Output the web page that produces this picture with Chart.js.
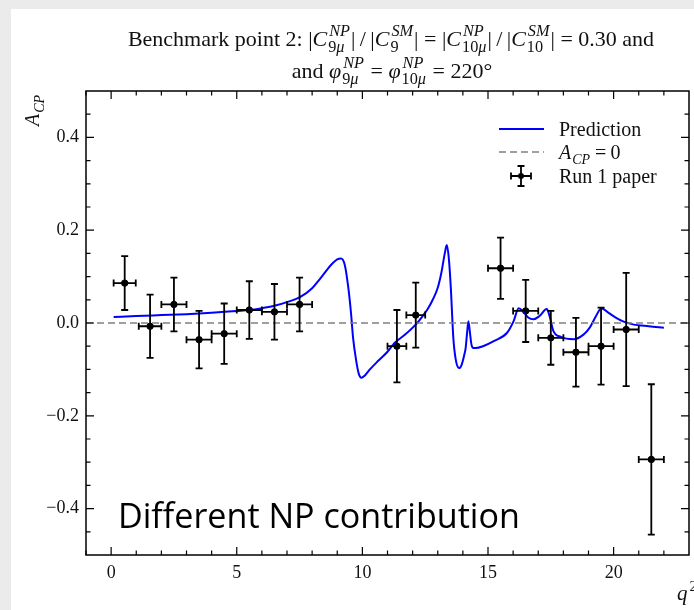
<!DOCTYPE html>
<html>
<head>
<meta charset="utf-8">
<script src="https://cdn.jsdelivr.net/npm/chart.js@4.4.1/dist/chart.umd.min.js"></script>
<style>
  html, body { margin: 0; padding: 0; background: #ebebeb; }
  body { width: 694px; height: 610px; position: relative; overflow: hidden; }
  #card { position: absolute; left: 11px; top: 9px; right: 0; bottom: 0; background: #fff; }
  #wrap { position: absolute; left: 0; top: 0; width: 694px; height: 610px; }
</style>
</head>
<body>
<div id="card"></div>
<div id="wrap"><canvas id="chart" width="694" height="610"></canvas></div>
<script>
// Run 1 paper bins (q^2 ranges) and measured A_CP
const binLow = [0.1, 1.1, 2, 3, 4, 5, 6, 7, 11, 11.75, 15, 16, 17, 18, 19, 20, 21];
const binHigh = [0.98, 2, 3, 4, 5, 6, 7, 8, 11.75, 12.5, 16, 17, 18, 19, 20, 21, 22];
const acpValues = [0.086, -0.007, 0.040, -0.036, -0.023, 0.028, 0.024, 0.040,
  -0.050, 0.017, 0.118, 0.026, -0.032, -0.063, -0.050, -0.014, -0.294];
const acpErrors = [0.058, 0.068, 0.058, 0.062, 0.065, 0.062, 0.060, 0.058,
  0.078, 0.070, 0.066, 0.067, 0.058, 0.074, 0.083, 0.122, 0.162];

// Prediction curve
const curveQ2 = [0.1, 1, 2, 3, 4, 5, 5.5, 6, 6.5, 7, 7.5, 8, 8.25, 8.5, 8.75, 9.0, 9.15, 9.3,
  9.44, 9.55, 9.63, 9.75, 9.85, 9.96, 10.1, 10.3, 10.62, 11.0, 11.28, 11.7, 12.13, 12.4,
  12.6, 12.8, 13.0, 13.15, 13.28, 13.36, 13.44, 13.52, 13.62, 13.72, 13.85, 13.95, 14.05,
  14.11, 14.17, 14.22, 14.28, 14.34, 14.42, 14.52, 14.8, 15.23, 15.76, 16.02, 16.22, 16.4,
  16.6, 16.81, 17.05, 17.34, 17.45, 17.6, 17.9, 18.4, 18.8, 19.05, 19.3, 19.51, 19.8, 20.1,
  20.4, 20.77, 21.4, 22.0];
const curveAcp = [0.013, 0.015, 0.017, 0.019, 0.022, 0.026, 0.028, 0.032, 0.037, 0.045, 0.055,
  0.075, 0.091, 0.108, 0.125, 0.137, 0.139, 0.125, 0.076, 0.020, -0.032, -0.080, -0.108,
  -0.118, -0.113, -0.100, -0.082, -0.062, -0.043, -0.025, -0.003, 0.015, 0.030, 0.050,
  0.076, 0.110, 0.150, 0.168, 0.140, 0.076, -0.032, -0.080, -0.097, -0.090, -0.070,
  -0.054, -0.020, 0.004, -0.020, -0.046, -0.054, -0.054, -0.050, -0.039, -0.021, 0.004,
  0.032, 0.025, 0.012, 0.008, 0.015, 0.030, 0.015, -0.017, -0.030, -0.035, -0.025, -0.010,
  0.015, 0.032, 0.022, 0.011, 0.003, -0.003, -0.007, -0.010];

const xMajorTicks = [0, 5, 10, 15, 20];
const xMinorTicks = [-1, 1, 2, 3, 4, 6, 7, 8, 9, 11, 12, 13, 14, 16, 17, 18, 19, 21, 22];
const yMajorTicks = [-0.4, -0.2, 0, 0.2, 0.4];
const yMinorTicks = [-0.45, -0.35, -0.3, -0.25, -0.15, -0.1, -0.05, 0.05, 0.1, 0.15, 0.25, 0.3, 0.35, 0.45];

const SERIF = '"Liberation Serif", "DejaVu Serif", serif';

function fontStr(size, italic) {
  return `${italic ? "italic " : ""}${size}px ${SERIF}`;
}

function drawChars(ctx, str, x, y, size, draw) {
  let w = 0;
  for (const ch of str) {
    ctx.font = fontStr(size, /[A-Za-z\u03bc\u03c6]/.test(ch));
    if (draw) ctx.fillText(ch, x + w, y);
    w += ctx.measureText(ch).width;
  }
  return w;
}

// parts: {t, it} plain run, or {sub, sup} stacked scripts
function drawRich(ctx, parts, x, y, size, draw = true, scr = 0.7) {
  let cx = x;
  for (const p of parts) {
    if (p.sub !== undefined) {
      const s = size * scr;
      const w1 = drawChars(ctx, p.sub, cx + 1, y + size * 0.26, s, draw);
      const w2 = drawChars(ctx, p.sup, cx + 2, y - size * 0.44, s, draw);
      cx += Math.max(w1 + 1, w2 + 2) + 1;
    } else {
      ctx.font = fontStr(size, p.it);
      if (draw) ctx.fillText(p.t, cx, y);
      cx += ctx.measureText(p.t).width;
    }
  }
  return cx - x;
}

function drawRichCentered(ctx, parts, cx, y, size, scr) {
  const w = drawRich(ctx, parts, 0, 0, size, false, scr);
  drawRich(ctx, parts, cx - w / 2, y, size, true, scr);
}

const T = "\u2009";
const titleLine1 = [
  { t: "Benchmark point 2: |" }, { t: "C", it: true }, { sub: "9\u03bc", sup: "NP" },
  { t: `|${T}/${T}|` }, { t: "C", it: true }, { sub: "9", sup: "SM" },
  { t: "| = |" }, { t: "C", it: true }, { sub: "10\u03bc", sup: "NP" },
  { t: `|${T}/${T}|` }, { t: "C", it: true }, { sub: "10", sup: "SM" },
  { t: "| = 0.30 and" },
];
const titleLine2 = [
  { t: "and " }, { t: "\u03c6", it: true }, { sub: "9\u03bc", sup: "NP" },
  { t: " = " }, { t: "\u03c6", it: true }, { sub: "10\u03bc", sup: "NP" },
  { t: " = 220\u00b0" },
];

const decorPlugin = {
  id: "decor",
  afterDatasetsDraw(chart) {
    const { ctx, scales: { x, y } } = chart;
    ctx.save();
    ctx.strokeStyle = "#000";
    ctx.lineWidth = 1.8;
    const cap = 3.5;
    binLow.forEach((lo, i) => {
      const xc = x.getPixelForValue((lo + binHigh[i]) / 2);
      const x0 = x.getPixelForValue(lo);
      const x1 = x.getPixelForValue(binHigh[i]);
      const yc = y.getPixelForValue(acpValues[i]);
      const y0 = y.getPixelForValue(acpValues[i] - acpErrors[i]);
      const y1 = y.getPixelForValue(acpValues[i] + acpErrors[i]);
      ctx.beginPath();
      ctx.moveTo(x0, yc); ctx.lineTo(x1, yc);
      ctx.moveTo(xc, y0); ctx.lineTo(xc, y1);
      ctx.moveTo(x0, yc - cap); ctx.lineTo(x0, yc + cap);
      ctx.moveTo(x1, yc - cap); ctx.lineTo(x1, yc + cap);
      ctx.moveTo(xc - cap, y0); ctx.lineTo(xc + cap, y0);
      ctx.moveTo(xc - cap, y1); ctx.lineTo(xc + cap, y1);
      ctx.stroke();
    });
    ctx.restore();
  },
  afterDraw(chart) {
    const { ctx, chartArea: a, scales: { x, y } } = chart;
    ctx.save();
    // frame
    ctx.strokeStyle = "#000";
    ctx.lineWidth = 1.5;
    ctx.strokeRect(a.left, a.top, a.right - a.left, a.bottom - a.top);
    // inward ticks on all sides
    ctx.lineWidth = 1.2;
    ctx.beginPath();
    const xt = (v, len) => {
      const px = x.getPixelForValue(v);
      ctx.moveTo(px, a.bottom); ctx.lineTo(px, a.bottom - len);
      ctx.moveTo(px, a.top); ctx.lineTo(px, a.top + len);
    };
    const yt = (v, len) => {
      const py = y.getPixelForValue(v);
      ctx.moveTo(a.left, py); ctx.lineTo(a.left + len, py);
      ctx.moveTo(a.right, py); ctx.lineTo(a.right - len, py);
    };
    xMajorTicks.forEach((v) => xt(v, 8));
    xMinorTicks.forEach((v) => xt(v, 4.5));
    yMajorTicks.forEach((v) => yt(v, 8));
    yMinorTicks.forEach((v) => yt(v, 4.5));
    ctx.stroke();

    ctx.fillStyle = "#111";
    ctx.textBaseline = "alphabetic";
    ctx.textAlign = "left";
    // title
    drawRichCentered(ctx, titleLine1, 391, 46, 22, 0.74);
    drawRichCentered(ctx, titleLine2, 392, 78, 22, 0.74);

    // legend
    const lx0 = 499, lx1 = 544, tx = 559;
    ctx.strokeStyle = "#0000ff";
    ctx.lineWidth = 2;
    ctx.beginPath(); ctx.moveTo(lx0, 129); ctx.lineTo(lx1, 129); ctx.stroke();
    ctx.strokeStyle = "#808080";
    ctx.lineWidth = 1.5;
    ctx.setLineDash([7, 4]);
    ctx.beginPath(); ctx.moveTo(lx0, 152); ctx.lineTo(lx1, 152); ctx.stroke();
    ctx.setLineDash([]);
    ctx.strokeStyle = "#000";
    ctx.lineWidth = 1.8;
    const ex = 521, ey = 176;
    ctx.beginPath();
    ctx.moveTo(ex - 10, ey); ctx.lineTo(ex + 10, ey);
    ctx.moveTo(ex, ey - 10); ctx.lineTo(ex, ey + 10);
    ctx.moveTo(ex - 10, ey - 3.5); ctx.lineTo(ex - 10, ey + 3.5);
    ctx.moveTo(ex + 10, ey - 3.5); ctx.lineTo(ex + 10, ey + 3.5);
    ctx.moveTo(ex - 3.5, ey - 10); ctx.lineTo(ex + 3.5, ey - 10);
    ctx.moveTo(ex - 3.5, ey + 10); ctx.lineTo(ex + 3.5, ey + 10);
    ctx.stroke();
    ctx.fillStyle = "#000";
    ctx.beginPath(); ctx.arc(ex, ey, 3, 0, Math.PI * 2); ctx.fill();
    ctx.fillStyle = "#111";
    drawRich(ctx, [{ t: "Prediction" }], tx, 136, 20);
    drawRich(ctx, [{ t: "A", it: true }, { sub: "CP", sup: "" }, { t: `${T}=${T}0` }], tx, 159, 20);
    drawRich(ctx, [{ t: "Run 1 paper" }], tx, 183, 20);

    // axis labels
    ctx.save();
    ctx.translate(39, 110);
    ctx.rotate(-Math.PI / 2);
    drawRichCentered(ctx, [{ t: "A", it: true }, { sub: "CP", sup: "" }], 0, 0, 20);
    ctx.restore();
    drawRich(ctx, [{ t: "q", it: true }, { sub: "", sup: "2" }], 677, 600, 21);

    // annotation
    const note = "Different NP contribution";
    ctx.fillStyle = "#000";
    ctx.font = '28px "Open Sans", "Noto Sans", sans-serif';
    const size = 28 * 402 / ctx.measureText(note).width;
    ctx.font = `${size}px "Open Sans", "Noto Sans", sans-serif`;
    ctx.fillText(note, 118, 528);
    ctx.restore();
  },
};

const tickFont = { family: SERIF, size: 18 };

new Chart(document.getElementById("chart"), {
  type: "scatter",
  data: {
    datasets: [
      {
        label: "A_CP = 0",
        data: [{ x: -1, y: 0 }, { x: 23, y: 0 }],
        showLine: true,
        borderColor: "#808080",
        borderWidth: 1.5,
        borderDash: [7, 4],
        pointRadius: 0,
      },
      {
        label: "Prediction",
        data: curveQ2.map((q, i) => ({ x: q, y: curveAcp[i] })),
        showLine: true,
        borderColor: "#0000ff",
        borderWidth: 2,
        pointRadius: 0,
        cubicInterpolationMode: "monotone",
      },
      {
        label: "Run 1 paper",
        data: binLow.map((lo, i) => ({ x: (lo + binHigh[i]) / 2, y: acpValues[i] })),
        pointRadius: 3.2,
        backgroundColor: "#000",
        borderColor: "#000",
      },
    ],
  },
  options: {
    responsive: false,
    animation: false,
    devicePixelRatio: 1,
    layout: { padding: { left: 0, top: 91, right: 1, bottom: 0 } },
    plugins: { legend: { display: false }, tooltip: { enabled: false } },
    scales: {
      x: {
        type: "linear",
        min: -1,
        max: 23,
        grid: { display: false, drawTicks: false },
        border: { display: false },
        afterBuildTicks: (s) => { s.ticks = xMajorTicks.map((v) => ({ value: v })); },
        afterFit: (s) => { s.height = 55; },
        ticks: {
          font: tickFont,
          color: "#111",
          padding: 7,
          maxRotation: 0,
          autoSkip: false,
          callback: (v) => String(v),
        },
      },
      y: {
        type: "linear",
        min: -0.5,
        max: 0.5,
        grid: { display: false, drawTicks: false },
        border: { display: false },
        afterBuildTicks: (s) => { s.ticks = yMajorTicks.map((v) => ({ value: v })); },
        afterFit: (s) => { s.width = 86; },
        ticks: {
          font: tickFont,
          color: "#111",
          padding: 7,
          callback: (v) => (v < 0 ? "\u2212" : "") + Math.abs(v).toFixed(1),
        },
      },
    },
  },
  plugins: [decorPlugin],
});
</script>
</body>
</html>
